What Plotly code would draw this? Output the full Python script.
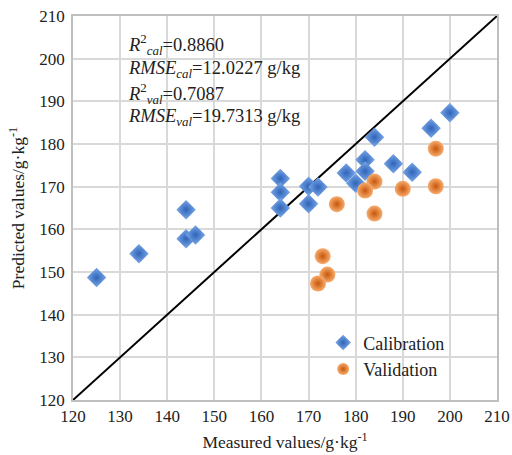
import plotly.graph_objects as go

cal_x = [200, 196, 184, 182, 188, 182, 178, 192, 180, 164, 170, 172, 164, 164, 170, 144, 144, 146, 134, 125]
cal_y = [187.3, 183.7, 181.6, 176.3, 175.4, 173.6, 173.2, 173.4, 170.8, 171.9, 170.1, 169.9, 168.7, 165.0, 166.0, 164.6, 157.8, 158.7, 154.3, 148.7]
val_x = [197, 184, 182, 190, 197, 176, 184, 173, 174, 172]
val_y = [178.9, 171.2, 169.1, 169.5, 170.1, 165.9, 163.7, 153.7, 149.4, 147.3]
line_xy = [120, 210]
stats = [
    "<i>R</i><sup>2</sup><sub><i>cal</i></sub>=0.8860",
    "<i>RMSE</i><sub><i>cal</i></sub>=12.0227 g/kg",
    "<i>R</i><sup>2</sup><sub><i>val</i></sub>=0.7087",
    "<i>RMSE</i><sub><i>val</i></sub>=19.7313 g/kg",
]
stats_y = [0.926, 0.860, 0.799, 0.735]

font = "Liberation Serif, Times New Roman, serif"
fig = go.Figure()
fig.add_trace(go.Scatter(x=line_xy, y=line_xy, mode="lines", line=dict(color="black", width=2),
                         showlegend=False, hoverinfo="skip"))
fig.add_trace(go.Scatter(x=cal_x, y=cal_y, mode="markers", name="Calibration",
                         marker=dict(symbol="diamond", size=15, color="#7AA7E8",
                                     gradient=dict(type="radial", color="#2F64B8"),
                                     line=dict(width=0))))
fig.add_trace(go.Scatter(x=val_x, y=val_y, mode="markers", name="Validation",
                         marker=dict(symbol="circle", size=16, color="#F6AC6E",
                                     gradient=dict(type="radial", color="#C9560A"),
                                     line=dict(width=0))))

for s, yy in zip(stats, stats_y):
    fig.add_annotation(x=0.125, y=yy, xref="paper", yref="paper", text=s,
                       showarrow=False, xanchor="left", yanchor="middle",
                       font=dict(family=font, size=18.5, color="#222"))

axis_common = dict(range=[120, 210], dtick=10, showgrid=True, gridcolor="#d9d9d9", gridwidth=1.5,
                   zeroline=False, showline=True, linecolor="#bfbfbf", linewidth=1.5, mirror=True,
                   ticks="", automargin=False, ticklabeloverflow="allow",
                   tickfont=dict(family=font, size=17, color="#222"))
fig.update_xaxes(**axis_common, title=dict(text="Measured values/g·kg<sup>-1</sup>",
                                           font=dict(family=font, size=17.5, color="#222"), standoff=11))
fig.update_yaxes(**axis_common, ticklabelstandoff=3,
                 title=dict(text="Predicted values/g·kg<sup>-1</sup>",
                            font=dict(family=font, size=17.5, color="#222"), standoff=10))

fig.update_layout(width=512, height=455, margin=dict(l=73, r=15, t=16, b=55),
                  plot_bgcolor="white", paper_bgcolor="white",
                  legend=dict(x=0.59, y=0.115, xanchor="left", yanchor="middle", bgcolor="rgba(255,255,255,0)",
                              font=dict(family=font, size=18, color="#222"), tracegroupgap=0,
                              itemsizing="constant"),
                  showlegend=True)
fig.write_html("out.html", config={"displayModeBar": False},
               post_script="document.body.style.margin='0';document.body.style.overflow='hidden';")
